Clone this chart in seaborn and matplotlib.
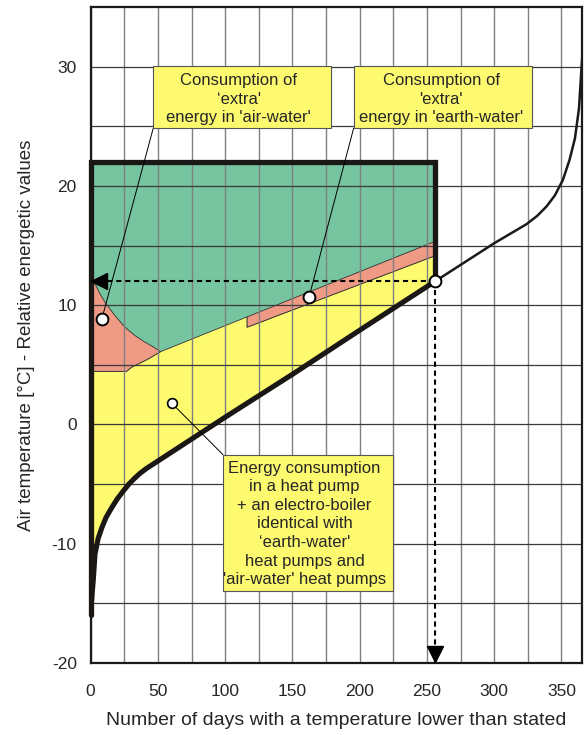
import numpy as np
import pandas as pd
import matplotlib
matplotlib.use('Agg')
import matplotlib.pyplot as plt
import seaborn as sns
from matplotlib.patches import Polygon, Rectangle

sns.set_style('white')
plt.rcParams['font.family'] = ['Liberation Sans', 'DejaVu Sans']
plt.rcParams['axes.unicode_minus'] = False

# temperature duration curve (days with temperature lower than stated)
days = [0, 1.0, 1.9, 3.2, 5.5, 8.2, 11.5, 15.6, 19.8, 24.2, 28.5, 32.9, 36.8, 41.5,
        100, 150, 200, 256, 300, 324, 332, 339, 345, 351, 356, 360, 363, 365.5]
temp = [-16.0, -14.3, -13.1, -10.9, -9.6, -8.7, -7.8, -7.0, -6.25, -5.6, -5.0, -4.5,
        -4.1, -3.7, 0.6, 4.2, 7.9, 12.0, 15.2, 16.8, 17.5, 18.3, 19.2, 20.5, 22.2, 24.0, 26.5, 31.0]

# heating envelope
design_day = 256
design_temp = 12.0
top_level = 22.0

# upper edge of 'extra' energy, air-water (left red area)
air_days = [0, 3.2, 6.9, 10.6, 18.0, 25.5, 32.9, 40.3, 46.5, 52]
air_top = [12.1, 11.8, 10.96, 10.25, 9.13, 8.15, 7.45, 6.9, 6.5, 6.1]

# upper edge of heat pump energy (yellow area)
hp_days = [0, 26.7, 30.5, 35.4, 43.0, 52, 116.3, 116.3, 256]
hp_top = [4.45, 4.45, 4.8, 5.07, 5.5, 6.1, 9.02, 8.15, 14.15]

# 'extra' energy, earth-water (red band)
ew_days = [116.3, 256]
ew_upper = [9.02, 15.35]
ew_lower = [8.15, 14.15]

# marker points
mark_days = [8.2, 162.3, 60.4]
mark_vals = [8.8, 10.67, 1.76]

xticks = [0, 50, 100, 150, 200, 250, 300, 350]
yticks = [-20, -10, 0, 10, 20, 30]

green = '#77c4a0'
salmon = '#ee9a85'
yellow = '#fdfa70'

df = pd.DataFrame({'days': days, 'temp': temp})
env = df[df['days'] <= design_day]
tail = df[df['days'] >= design_day]

fig = plt.figure(figsize=(5.85, 7.35), dpi=100)
ax = fig.add_axes([0.155, 0.0984, 0.8393, 0.8917])

# filled areas
green_pts = [(0, top_level), (design_day, top_level)] + \
    list(zip(env['days'][::-1], env['temp'][::-1]))
ax.add_patch(Polygon(green_pts, closed=True, facecolor=green, edgecolor='none', zorder=1))

yellow_pts = list(zip(env['days'], env['temp'])) + list(zip(hp_days[::-1], hp_top[::-1]))
ax.add_patch(Polygon(yellow_pts, closed=True, facecolor=yellow, edgecolor='#333333',
                     linewidth=0.6, zorder=1.1))

n_air = 6  # yellow edge points under the left red area
air_pts = list(zip(air_days, air_top)) + list(zip(hp_days[n_air - 1::-1], hp_top[n_air - 1::-1]))
ax.add_patch(Polygon(air_pts, closed=True, facecolor=salmon, edgecolor='#333333',
                     linewidth=0.6, zorder=1.2))

ew_pts = list(zip(ew_days, ew_upper)) + list(zip(ew_days[::-1], ew_lower[::-1]))
ax.add_patch(Polygon(ew_pts, closed=True, facecolor=salmon, edgecolor='#333333',
                     linewidth=0.6, zorder=1.2))

# grid
ax.set_xlim(0, 365)
ax.set_ylim(-20, 35)
ax.set_xticks(xticks)
ax.set_yticks(yticks)
ax.set_xticks(np.arange(25, 365, 50), minor=True)
ax.set_yticks(np.arange(-15, 35, 10), minor=True)
ax.grid(True, which='both', axis='x', color='#808080', linewidth=1.0, zorder=1.5)
ax.grid(True, which='both', axis='y', color='#3a3a3a', linewidth=0.9, zorder=1.5)
ax.set_axisbelow('line')

# temperature curve
sns.lineplot(data=tail, x='days', y='temp', sort=False, estimator=None,
             color='#1a1a1a', linewidth=1.8, ax=ax, zorder=3)
sns.lineplot(data=env, x='days', y='temp', sort=False, estimator=None,
             color='#1a1714', linewidth=3.7, ax=ax, zorder=4)

# envelope frame
ax.plot([0, 0, design_day, design_day], [env['temp'].iloc[0], top_level, top_level, design_temp],
        color='#1a1714', linewidth=3.8, solid_joinstyle='miter', clip_on=False, zorder=4)

# dashed reading lines with arrow heads
ax.plot([design_day, 0], [design_temp, design_temp], color='black', linewidth=1.5,
        linestyle=(0, (2.5, 1.8)), zorder=4)
ax.plot([design_day, design_day], [design_temp, -20], color='black', linewidth=1.5,
        linestyle=(0, (2.5, 1.8)), zorder=4)
ax.plot([6.0], [design_temp], marker='<', markersize=11, color='black', zorder=5, clip_on=False)
ax.plot([design_day], [-19.3], marker='v', markersize=11, color='black', zorder=5, clip_on=False)

# annotation boxes
box_style = dict(facecolor=yellow, edgecolor='#555555', linewidth=0.8, zorder=6)
ax.add_patch(Rectangle((46.5, 24.85), 131.8, 5.25, **box_style))
ax.add_patch(Rectangle((195.5, 24.85), 132.7, 5.25, **box_style))
ax.add_patch(Rectangle((98.4, -14.0), 126.2, 11.45, **box_style))

txt = dict(ha='center', va='center', fontsize=12, linespacing=1.3, zorder=7)
ax.text(110.0, 27.3, "Consumption of\n\u2018extra'\nenergy in 'air-water'", **txt)
ax.text(260.5, 27.3, "Consumption of\n'extra'\nenergy in 'earth-water'", **txt)
ax.text(159.0, -8.35, "Energy consumption\nin a heat pump\n+ an electro-boiler\n"
        "identical with\n\u2018earth-water'\nheat pumps and\n'air-water' heat pumps", **txt)

# leader lines
ax.plot([46.5, mark_days[0]], [24.85, mark_vals[0]], color='black', linewidth=0.7, zorder=5)
ax.plot([195.5, mark_days[1]], [24.85, mark_vals[1]], color='black', linewidth=0.7, zorder=5)
ax.plot([98.4, mark_days[2]], [-2.55, mark_vals[2]], color='black', linewidth=0.7, zorder=5)

# markers
ax.plot(mark_days[:2], mark_vals[:2], 'o', markersize=8.5, markerfacecolor='white',
        markeredgecolor='black', markeredgewidth=1.4, zorder=6)
ax.plot(mark_days[2:], mark_vals[2:], 'o', markersize=7, markerfacecolor='white',
        markeredgecolor='black', markeredgewidth=1.2, zorder=6)
ax.plot([design_day], [design_temp], 'o', markersize=8.5, markerfacecolor='white',
        markeredgecolor='black', markeredgewidth=1.4, zorder=6)

for s in ax.spines.values():
    s.set_color('#1a1a1a')
    s.set_linewidth(1.6)
    s.set_zorder(3)

ax.tick_params(axis='both', which='both', length=0, labelsize=12.5)
ax.tick_params(axis='x', pad=15)
ax.tick_params(axis='y', pad=10)
ax.set_xlabel('Number of days with a temperature lower than stated', fontsize=14, labelpad=10)
ax.set_ylabel('Air temperature [\u00b0C] - Relative energetic values', fontsize=13.5, labelpad=12)

fig.savefig('out.png', dpi=100)
